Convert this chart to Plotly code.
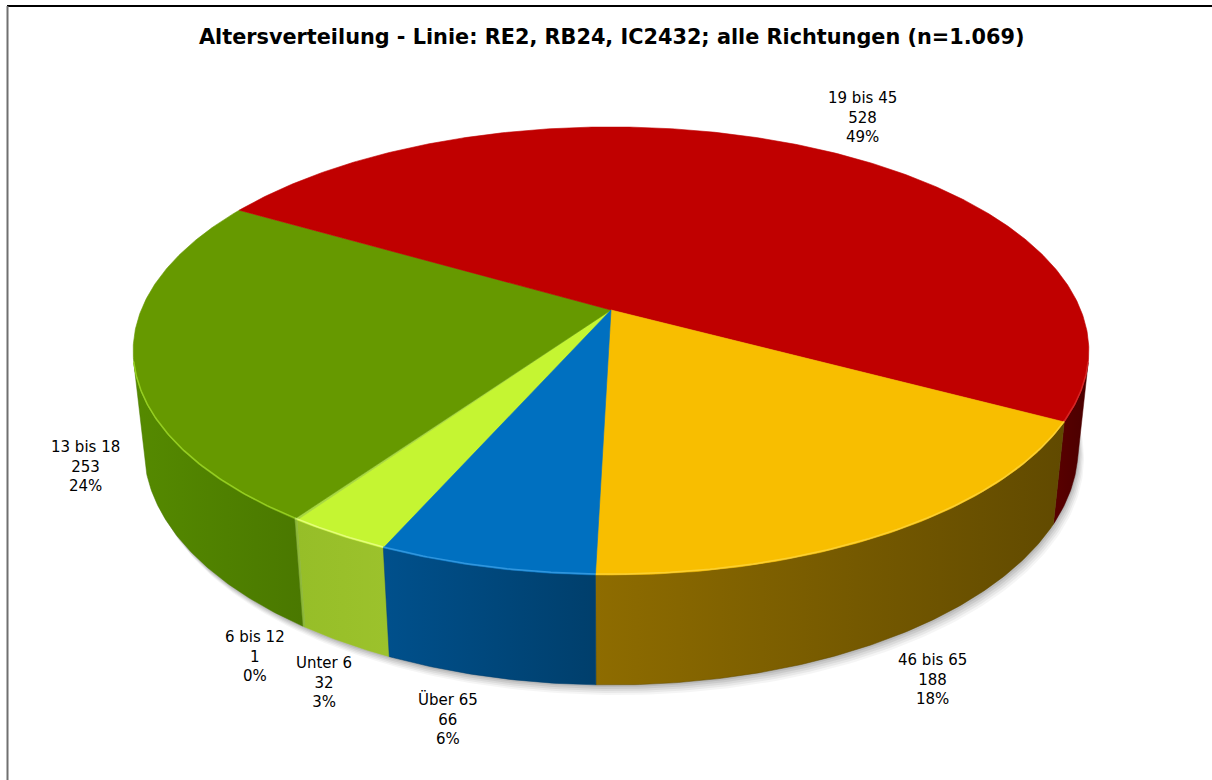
import numpy as np
import plotly.graph_objects as go

# ---------------- data ----------------
categories = ["Unter 6", "6 bis 12", "13 bis 18", "19 bis 45", "46 bis 65", "Über 65"]
counts = [32, 1, 253, 528, 188, 66]
title_text = "Altersverteilung - Linie: RE2, RB24, IC2432; alle Richtungen (n=1.069)"

# ---------------- style ----------------
top_colors = ["#C5F532", "#A8D840", "#669900", "#C00000", "#F8BE00", "#0070C0"]
wall_colors = [("#96BE28", "#9CC22C"), ("#8CB838", "#8CB838"), ("#558A00", "#4A7800"),
               ("#5A0000", "#4A0000"), ("#8E6C00", "#614A00"), ("#00508C", "#003F6C")]
rim_colors = ["rgba(235,255,140,0.8)", "rgba(200,240,120,0.8)", "rgba(160,220,40,0.8)",
              "rgba(230,60,60,0.6)", "rgba(255,220,80,0.6)", "rgba(60,160,230,0.8)"]
label_pos = [(324, 682), (255, 656), (85, 466), (862, 117), (932, 679), (448, 719)]

# perspective geometry (pixel space)
CX, CY = 611, 310
K, S, C, L, H = 2277.0, 0.461, 0.887, 4.847, 0.2357
START = 246.2  # degrees, slices run clockwise

W, HGT = 1212, 780


def proj(phi_deg, z=0.0):
    p = np.radians(phi_deg)
    x, y = np.cos(p), np.sin(p)
    depth = y * C + L - z * S
    up = y * S + z * C
    return CX + K * x / depth, CY - K * up / depth


def arc(a, b, z=0.0, n=None):
    if n is None:
        n = max(2, int(abs(a - b) * 2) + 2)
    ph = np.linspace(a, b, n)
    return proj(ph, z)


total = sum(counts)
fig = go.Figure()

# soft shadow
for off, op in [(10, 0.04), (8, 0.05), (6, 0.06), (4, 0.07), (2, 0.08)]:
    sx, sy = arc(0, 360, -H, 400)
    fig.add_trace(go.Scatter(x=sx + off * 0.6, y=sy + off, fill="toself", mode="lines",
                             line=dict(width=0), fillcolor=f"rgba(0,0,0,{op})",
                             hoverinfo="skip", showlegend=False))

# slice angles
angles = []
cum = 0
for v in counts:
    a = START - cum * 360.0 / total
    b = START - (cum + v) * 360.0 / total
    angles.append((a, b))
    cum += v

# visible wall range
lim = np.degrees(np.arcsin(1.0 / (L * C)))
vis = (-180 + lim, -lim)

# walls
for i, (a, b) in enumerate(angles):
    lo, hi = b, a
    for sh in (-360, 0, 360):
        vlo, vhi = vis[0] + sh, vis[1] + sh
        ilo, ihi = max(lo, vlo), min(hi, vhi)
        if ihi - ilo <= 0:
            continue
        tx, ty = arc(ihi, ilo, 0.0)
        bx, by = arc(ilo, ihi, -H)
        xs = np.concatenate([tx, bx, tx[:1]])
        ys = np.concatenate([ty, by, ty[:1]])
        fig.add_trace(go.Scatter(
            x=xs, y=ys, fill="toself", mode="lines",
            line=dict(width=0.5, color=wall_colors[i][1]),
            fillgradient=dict(type="horizontal",
                              colorscale=[[0, wall_colors[i][0]], [1, wall_colors[i][1]]]),
            hoverinfo="skip", showlegend=False))

# top faces
for i, (a, b) in enumerate(angles):
    ax, ay = arc(a, b, 0.0)
    xs = np.concatenate([[CX], ax, [CX]])
    ys = np.concatenate([[CY], ay, [CY]])
    fig.add_trace(go.Scatter(x=xs, y=ys, fill="toself", mode="lines",
                             line=dict(width=0.6, color=top_colors[i]),
                             fillcolor=top_colors[i], hoverinfo="skip", showlegend=False))

# rim highlights on front edge
for i, (a, b) in enumerate(angles):
    lo, hi = b, a
    for sh in (-360, 0, 360):
        vlo, vhi = vis[0] + sh, vis[1] + sh
        ilo, ihi = max(lo, vlo), min(hi, vhi)
        if ihi - ilo <= 0:
            continue
        tx, ty = arc(ihi, ilo, 0.0)
        fig.add_trace(go.Scatter(x=tx, y=ty - 1, mode="lines",
                                 line=dict(width=1.5, color=rim_colors[i]),
                                 hoverinfo="skip", showlegend=False))

# labels
for i, cat in enumerate(categories):
    pct = round(counts[i] * 100.0 / total)
    x, y = label_pos[i]
    fig.add_annotation(x=x, y=y, xref="x", yref="y", showarrow=False,
                       text=f"{cat}<br>{counts[i]}<br>{pct}%", align="center",
                       font=dict(family="DejaVu Sans", size=15, color="#000000"))

fig.add_annotation(x=W / 2 + 5, y=37, xref="x", yref="y", showarrow=False,
                   text=f"<b>{title_text}</b>",
                   font=dict(family="DejaVu Sans", size=20.8, color="#000000"))

# frame
fig.add_shape(type="line", x0=7, x1=W, y0=6, y1=6, xref="x", yref="y",
              line=dict(color="#000000", width=2))
fig.add_shape(type="line", x0=7.5, x1=7.5, y0=6, y1=HGT, xref="x", yref="y",
              line=dict(color="#707070", width=2))

fig.update_layout(
    width=W, height=HGT, margin=dict(l=0, r=0, t=0, b=0),
    paper_bgcolor="white", plot_bgcolor="white", showlegend=False,
    xaxis=dict(range=[0, W], visible=False, fixedrange=True),
    yaxis=dict(range=[HGT, 0], visible=False, fixedrange=True),
)

fig.write_html("out.html", config={"displayModeBar": False},
               post_script="document.body.style.margin='0';document.body.style.overflow='hidden';")
